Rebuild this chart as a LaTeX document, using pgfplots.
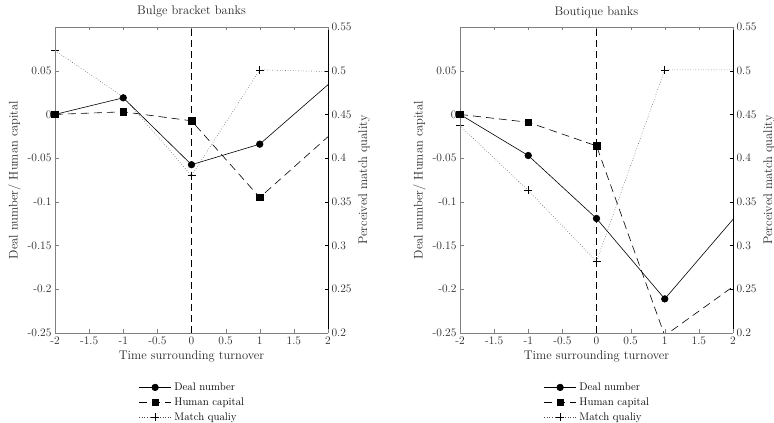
\documentclass[border=0pt]{standalone}
\usepackage{fontspec}
\usepackage{pgfplots}
\pgfplotsset{compat=1.18}
\definecolor{spine}{RGB}{128,128,128}
\definecolor{txt}{RGB}{38,38,38}
\newcommand\lab{\fontsize{12.5}{14}\selectfont}
\newcommand\tk{\fontsize{11.5}{13}\selectfont}
\newcommand\lgf{\fontsize{11}{13}\selectfont}
\pgfplotsset{
 common/.style={scale only axis, width=273pt, height=306pt, anchor=south west,
   xmin=-2, xmax=2, tick align=inside, major tick length=3.5pt,
   ticklabel style={font=\tk, text=txt}, label style={font=\lab, text=txt},
   title style={font=\lab, text=txt}},
 rightax/.style={common, axis x line=none, axis y line*=right,
   ymin=0.2, ymax=0.55,
   ytick={0.2,0.25,0.3,0.35,0.4,0.45,0.5,0.55},
   yticklabels={0.2,0.25,0.3,0.35,0.4,0.45,0.5,0.55},
   ylabel={Perceived match quality}, y axis line style={black}, ytick style={black},
   yticklabel pos=right, ylabel near ticks, ylabel style={font=\lab, text=txt}},
 leftax/.style={common, axis x line*=box, axis y line*=left,
   ymin=-0.25, ymax=0.1,
   ytick={-0.25,-0.2,-0.15,-0.1,-0.05,0,0.05},
   yticklabels={-0.25,-0.2,-0.15,-0.1,-0.05,0,0.05},
   xtick={-2,-1.5,-1,-0.5,0,0.5,1,1.5,2},
   xticklabels={-2,-1.5,-1,-0.5,0,0.5,1,1.5,2},
   xtick pos=both, ytick pos=left,
   axis line style={spine}, tick style={spine},
   xlabel={Time surrounding turnover}, ylabel={Deal number/ Human capital},
   legend image code/.code={\draw[mark indices={2}] plot coordinates {(0pt,0pt) (16pt,0pt) (32pt,0pt)};},
   legend cell align=left,
   legend style={at={(0.5,-0.16)}, anchor=north, draw=none, fill=none, inner sep=0pt,
     font=\lgf, nodes={inner sep=0pt, text height=8pt, text depth=2.5pt},
     row sep=4.5pt, column sep=3pt}},
 dn/.style={black, line width=0.6pt, mark=*, mark size=3.3pt},
 hc/.style={black, line width=0.6pt, dash pattern=on 8pt off 5pt, mark=square*, mark size=3.3pt, mark options={solid}},
 mq/.style={black!70, line width=0.5pt, dash pattern=on 0.6pt off 2pt, mark=+, mark size=4pt, mark options={solid, black, line width=0.6pt}},
 vl/.style={black, line width=0.6pt, dash pattern=on 7pt off 4pt, forget plot},
}
\begin{document}
\begin{tikzpicture}
\path[use as bounding box] (0,0) rectangle (774pt,423pt);
% ---------- Left panel ----------
\begin{axis}[rightax, at={(55pt,90pt)}]
\addplot[mq, mark indices={1,3,4}] coordinates {(-2,0.523) (-1,0.470) (0,0.380) (1,0.501) (2,0.499)};
\end{axis}
\begin{axis}[leftax, at={(55pt,90pt)}, title={Bulge bracket banks}]
\addplot[vl] coordinates {(0,-0.25) (0,0.1)};
\addplot[dn, mark indices={1,2,3,4}] coordinates {(-2,0) (-1,0.019) (0,-0.0575) (1,-0.034) (2,0.034)};
\addlegendentry{Deal number}
\addplot[hc, mark indices={1,2,3,4}] coordinates {(-2,0) (-1,0.003) (0,-0.0073) (1,-0.095) (2,-0.0255)};
\addlegendentry{Human capital}
\addlegendimage{mq}
\addlegendentry{Match qualiy}
\end{axis}
% ---------- Right panel ----------
\begin{axis}[rightax, at={(460pt,90pt)}]
\addplot[mq, mark indices={1,2,3,4}] coordinates {(-2,0.437) (-1,0.363) (0,0.282) (1,0.501) (2,0.501)};
\end{axis}
\begin{axis}[leftax, at={(460pt,90pt)}, title={Boutique banks}]
\addplot[vl] coordinates {(0,-0.25) (0,0.1)};
\addplot[dn, mark indices={1,2,3,4}] coordinates {(-2,0) (-1,-0.047) (0,-0.119) (1,-0.211) (2,-0.120)};
\addlegendentry{Deal number}
\addplot[hc, mark indices={1,2,3}] coordinates {(-2,0) (-1,-0.009) (0,-0.036) (1,-0.253) (2,-0.197)};
\addlegendentry{Human capital}
\addlegendimage{mq}
\addlegendentry{Match qualiy}
\end{axis}
\end{tikzpicture}
\end{document}
